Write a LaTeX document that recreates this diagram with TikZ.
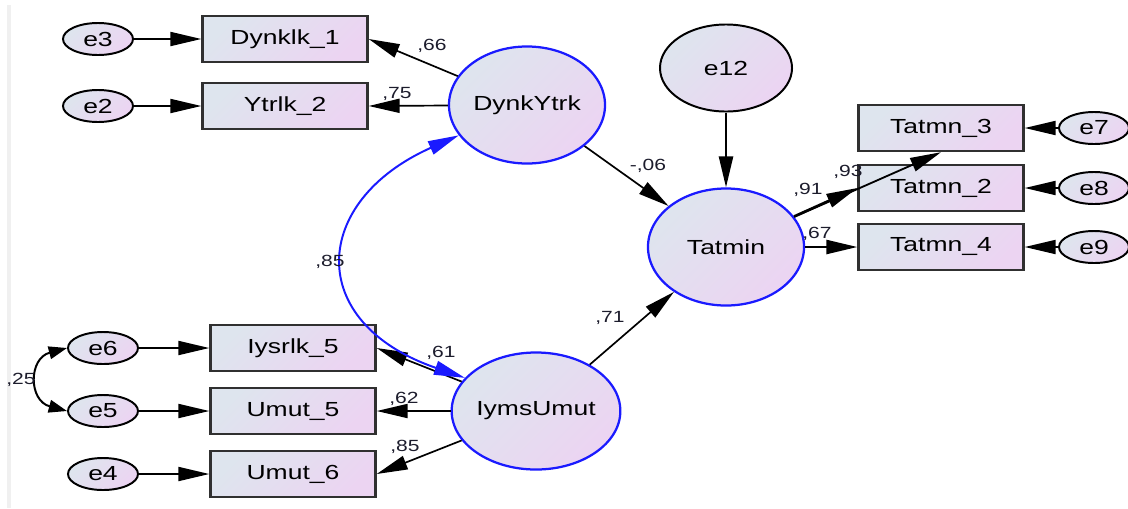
\documentclass[tikz,border=0pt]{standalone}
\usepackage{fontspec}
\setmainfont{Liberation Sans}[FakeStretch=1.3]
\usepackage{xcolor}
\usepackage{tikz}
\usetikzlibrary{shapes.geometric}
\usetikzlibrary{arrows.meta}
\definecolor{shadeA}{HTML}{DEE5EE}
\definecolor{shadeB}{HTML}{ECD4F2}
\definecolor{latblue}{HTML}{1A1AFF}
\definecolor{edgegray}{HTML}{303030}
\definecolor{coefcol}{HTML}{1C1C2C}

\begin{document}
\begin{tikzpicture}[x=0.025cm, y=-0.025cm,
  >={Triangle[length=22pt,width=10pt]},
  obs/.style={rectangle, draw=edgegray, line width=1.7pt, top color=shadeA, bottom color=shadeB, shading angle=45, minimum width=4.125cm, minimum height=1.15cm, inner sep=0pt, font=\fontsize{14.5}{16}\selectfont},
  lat/.style={ellipse, draw=latblue, line width=1.6pt, top color=shadeA, bottom color=shadeB, shading angle=45, minimum width=3.9cm, minimum height=2.925cm, inner sep=0pt, font=\fontsize{14.5}{16}\selectfont},
  err/.style={ellipse, draw=black, line width=1.4pt, top color=shadeA, bottom color=shadeB, shading angle=45, minimum width=1.75cm, minimum height=0.8cm, inner sep=0pt, font=\fontsize{14.5}{16}\selectfont},
  reg/.style={->, line width=1.2pt},
  cov/.style={<->, line width=1.4pt},
  coef/.style={inner sep=0pt, text=coefcol, font=\fontsize{11.5}{13}\selectfont}]

  \useasboundingbox (0,0) rectangle (1128,508);
  \fill[gray!12] (7,5) rectangle (11,508);

  % upper factor
  \node[err] (e3) at (98,39) {e3};
  \node[err] (e2) at (98,106) {e2};
  \node[obs] (dynklk1) at (285,39) {Dynklk\_1};
  \node[obs] (ytrlk2) at (285,106) {Ytrlk\_2};
  \node[lat] (dynkytrk) at (527,105) {DynkYtrk};

  % lower factor
  \node[err] (e6) at (103,348) {e6};
  \node[err] (e5) at (103,411) {e5};
  \node[err] (e4) at (103,474) {e4};
  \node[obs] (iysrlk5) at (293,348) {Iysrlk\_5};
  \node[obs] (umut5) at (293,411) {Umut\_5};
  \node[obs] (umut6) at (293,474) {Umut\_6};
  \node[lat] (iymsumut) at (536,411) {IymsUmut};

  % outcome
  \node[err, minimum width=3.3cm, minimum height=2.175cm] (e12) at (726,68) {e12};
  \node[lat] (tatmin) at (726,247) {Tatmin};
  \node[obs] (tatmn3) at (941,128) {Tatmn\_3};
  \node[obs] (tatmn2) at (941,188) {Tatmn\_2};
  \node[obs] (tatmn4) at (941,247) {Tatmn\_4};
  \node[err] (e7) at (1094,128) {e7};
  \node[err] (e8) at (1094,188) {e8};
  \node[err] (e9) at (1094,247) {e9};

  \draw[reg] (e3) -- (dynklk1);
  \draw[reg] (e2) -- (ytrlk2);
  \draw[reg] (dynkytrk) -- (dynklk1.east);
  \draw[reg] (dynkytrk) -- (ytrlk2.east);
  \draw[reg] (e6) -- (iysrlk5);
  \draw[reg] (e5) -- (umut5);
  \draw[reg] (e4) -- (umut6);
  \draw[reg] (iymsumut) -- (iysrlk5.east);
  \draw[reg] (iymsumut) -- (umut5.east);
  \draw[reg] (iymsumut) -- (umut6.east);
  \draw[reg] (dynkytrk) -- (tatmin);
  \draw[reg] (iymsumut) -- (tatmin);
  \draw[reg, line width=1.6pt] (e12) -- (tatmin);
  \draw[reg, line width=1.8pt] (tatmin) -- (tatmn2.west);
  \draw[reg, line width=1.3pt] (tatmin) -- (tatmn3.south);
  \draw[reg, line width=1.5pt] (tatmin) -- (tatmn4.west);
  \draw[reg] (e7) -- (tatmn3);
  \draw[reg] (e8) -- (tatmn2);
  \draw[reg] (e9) -- (tatmn4);

  \draw[cov, draw=latblue] (dynkytrk.204) .. controls +(204:4.05cm) and +(161:4.25cm) .. (iymsumut.155);
  \draw[cov, {Triangle[length=13pt,width=9pt]}-{Triangle[length=13pt,width=9pt]}] (e6.west) .. controls +(195:1cm) and +(165:1cm) .. (e5.west);

  % coefficients
  \node[coef] (c66) at (432,46) {,66};
  \node[coef] (c75) at (397,94) {,75};
  \node[coef] (c06) at (648,166) {-,06};
  \node[coef] (c85a) at (330,262) {,85};
  \node[coef] (c61) at (441,353) {,61};
  \node[coef] (c62) at (404,399) {,62};
  \node[coef] (c85b) at (405,447) {,85};
  \node[coef] (c71) at (610,318) {,71};
  \node[coef] (c91) at (808,190) {,91};
  \node[coef] (c93) at (848,172) {,93};
  \node[coef] (c67) at (817,234) {,67};
  \node[coef] (c25) at (21,380) {,25};
\end{tikzpicture}
\end{document}
